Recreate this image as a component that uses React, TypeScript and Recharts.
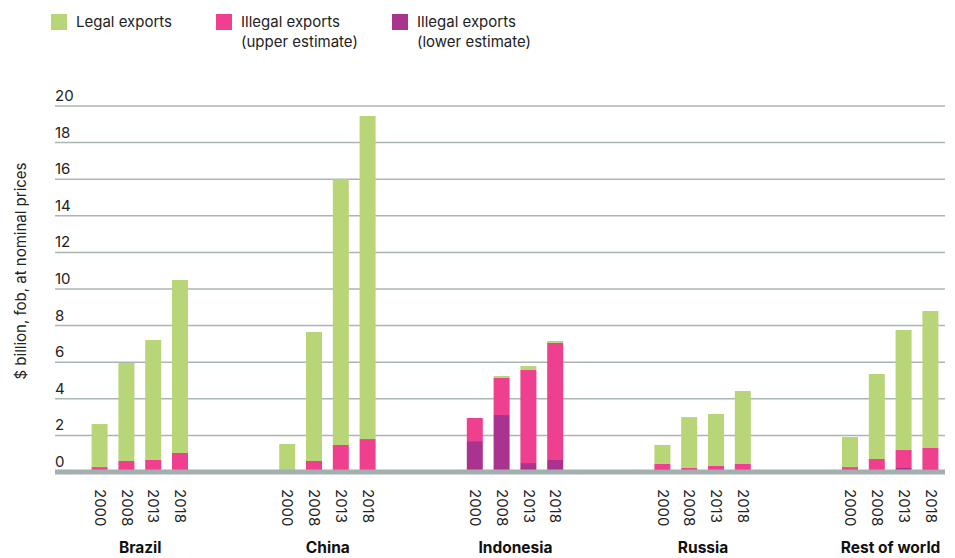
import { Bar, BarChart, CartesianGrid, Legend, XAxis, YAxis } from 'recharts'

const categories = ['Brazil', 'China', 'Indonesia', 'Russia', 'Rest of world']
const years = ['2000', '2008', '2013', '2018']

// $ billion, one inner array per category, in the order of `years`
const legalExports = [
  [2.35, 5.36, 6.55, 9.45],
  [1.53, 7.05, 14.52, 17.65],
  [0, 0.11, 0.22, 0.11],
  [1.04, 2.78, 2.84, 3.99],
  [1.64, 4.65, 6.56, 7.49],
]
const illegalUpper = [
  [0.27, 0.6, 0.66, 1.04],
  [0, 0.6, 1.48, 1.8],
  [2.95, 5.14, 5.57, 7.05],
  [0.44, 0.22, 0.33, 0.44],
  [0.27, 0.71, 1.2, 1.31],
]
const illegalLower = [
  [0, 0, 0, 0],
  [0, 0, 0, 0],
  [1.69, 3.11, 0.49, 0.66],
  [0.16, 0, 0, 0],
  [0, 0, 0.22, 0.16],
]
const yTicks = [0, 2, 4, 6, 8, 10, 12, 14, 16, 18, 20]

const GREEN = '#b8d678'
const PINK = '#ef3f8f'
const PURPLE = '#a9338f'
const GRID = '#aab5b5'
const FONT = 'Inter, "Noto Sans", sans-serif'

const CHART_W = 947
const CHART_H = 550
const MARGIN = { top: 98, right: 10, bottom: 0, left: 0 }
const Y_AXIS_W = 47
const PAD_L = 31.6
const PAD_R = 0.8
const GAP_SLOTS = 3

type Row = {
  key: string
  year?: string
  group?: string
  yearIndex?: number
  lower?: number
  upperRest?: number
  legal?: number
}

const rows: Row[] = []
categories.forEach((cat, gi) => {
  if (gi > 0) {
    for (let k = 0; k < GAP_SLOTS; k++) rows.push({ key: `gap-${gi}-${k}` })
  }
  years.forEach((year, yi) => {
    const lower = illegalLower[gi][yi]
    rows.push({
      key: `${cat}-${year}`,
      year,
      group: cat,
      yearIndex: yi,
      lower,
      upperRest: illegalUpper[gi][yi] - lower,
      legal: legalExports[gi][yi],
    })
  })
})
const rowByKey = new Map(rows.map((r) => [r.key, r]))

const plotWidth = CHART_W - MARGIN.left - MARGIN.right - Y_AXIS_W
const slot = (plotWidth - PAD_L - PAD_R) / rows.length

const legendItems = [
  { color: GREEN, lines: ['Legal exports'], width: 165 },
  { color: PINK, lines: ['Illegal exports', '(upper estimate)'], width: 176 },
  { color: PURPLE, lines: ['Illegal exports', '(lower estimate)'], width: 200 },
]

const renderLegend = () => (
  <div style={{ display: 'flex', paddingLeft: 43, paddingTop: 6, fontFamily: FONT, fontSize: 15, color: '#222' }}>
    {legendItems.map((item) => (
      <div key={item.lines.join()} style={{ display: 'flex', width: item.width }}>
        <div style={{ width: 16, height: 16, background: item.color, marginRight: 9, flexShrink: 0 }} />
        <div style={{ lineHeight: '20px', marginTop: -2 }}>
          {item.lines.map((l) => (
            <div key={l}>{l}</div>
          ))}
        </div>
      </div>
    ))}
  </div>
)

const YTick = ({ x, y, payload }: any) => (
  <text x={x} y={y - 5} textAnchor="start" fontFamily={FONT} fontSize={15} fill="#222">
    {payload.value}
  </text>
)

const XTick = ({ x, y, payload }: any) => {
  const row = rowByKey.get(payload.value)
  if (!row || !row.year) return <g />
  return (
    <g>
      <text
        transform={`translate(${x},${y + 17}) rotate(90)`}
        textAnchor="start"
        dy="0.35em"
        fontFamily={FONT}
        fontSize={15}
        fill="#222"
      >
        {row.year}
      </text>
      {row.yearIndex === 1 && (
        <text x={x + slot / 2} y={y + 81} textAnchor="middle" fontFamily={FONT} fontSize={15.5} fontWeight={700} fill="#111">
          {row.group}
        </text>
      )}
    </g>
  )
}

const YLabel = () => (
  <text
    transform="translate(12,263) rotate(-90)"
    textAnchor="middle"
    dominantBaseline="central"
    fontFamily={FONT}
    fontSize={15}
    fill="#222"
  >
    $ billion, fob, at nominal prices
  </text>
)

export default function App() {
  return (
    <div style={{ width: CHART_W, height: CHART_H }}>
      <BarChart width={CHART_W} height={CHART_H} data={rows} margin={MARGIN} barSize={16}>
        <CartesianGrid vertical={false} stroke={GRID} strokeWidth={1.5} />
        <XAxis
          dataKey="key"
          interval={0}
          height={86}
          padding={{ left: PAD_L, right: PAD_R }}
          tickLine={false}
          tickSize={0}
          tickMargin={0}
          axisLine={{ stroke: '#a3aeae', strokeWidth: 5 }}
          tick={<XTick />}
        />
        <YAxis
          domain={[0, 20]}
          ticks={yTicks}
          width={Y_AXIS_W}
          axisLine={false}
          tickLine={false}
          tickSize={0}
          tickMargin={0}
          tick={<YTick />}
          label={<YLabel />}
        />
        <Legend
          verticalAlign="middle"
          align="center"
          content={renderLegend}
          wrapperStyle={{ top: 0, left: 0, width: 700 }}
        />
        <Bar dataKey="lower" stackId="a" fill={PURPLE} isAnimationActive={false} />
        <Bar dataKey="upperRest" stackId="a" fill={PINK} isAnimationActive={false} />
        <Bar dataKey="legal" stackId="a" fill={GREEN} isAnimationActive={false} />
      </BarChart>
    </div>
  )
}
